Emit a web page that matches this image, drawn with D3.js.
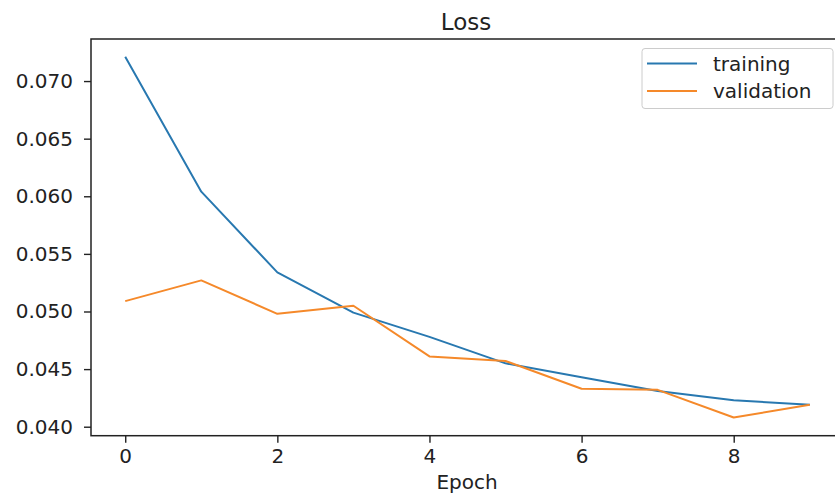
<!DOCTYPE html>
<html>
<head>
<meta charset="utf-8">
<script src="https://cdn.jsdelivr.net/npm/d3@7"></script>
<style>
  html, body { margin: 0; padding: 0; background: #fff; }
  svg { display: block; font-family: "DejaVu Sans", sans-serif; }
</style>
</head>
<body>
<svg id="chart" width="835" height="496"></svg>
<script>
const epochs = [0, 1, 2, 3, 4, 5, 6, 7, 8, 9];
const training = [0.0721, 0.0604, 0.0534, 0.0499, 0.0478, 0.0455, 0.0443, 0.0431, 0.0423, 0.0419];
const validation = [0.0509, 0.0527, 0.0498, 0.0505, 0.0461, 0.0457, 0.0433, 0.0432, 0.0408, 0.0419];
const xTicks = [0, 2, 4, 6, 8];
const yTicks = [0.040, 0.045, 0.050, 0.055, 0.060, 0.065, 0.070];
const seriesNames = ["training", "validation"];
const colors = ["#2878b0", "#f5892a"];

const svg = d3.select("#chart");
const pLeft = 91, pRight = 844, pTop = 39, pBottom = 435.7;

const x = d3.scaleLinear().domain([-0.45, 9.45]).range([pLeft, pRight]);
const y = d3.scaleLinear().domain([0.03922, 0.07365]).range([pBottom, pTop]);

// lines
const line = d3.line().x((d, i) => x(epochs[i])).y(d => y(d));
[training, validation].forEach((s, k) => {
  svg.append("path")
    .datum(s)
    .attr("d", line)
    .attr("fill", "none")
    .attr("stroke", colors[k])
    .attr("stroke-width", 2)
    .attr("stroke-linejoin", "round");
});

// axes
const xAxis = d3.axisBottom(x).tickValues(xTicks).tickFormat(d3.format("d")).tickSize(7).tickPadding(6);
const yAxis = d3.axisLeft(y).tickValues(yTicks).tickFormat(d3.format(".3f")).tickSize(7).tickPadding(11);

const gx = svg.append("g").attr("transform", `translate(0,${pBottom})`).call(xAxis);
const gy = svg.append("g").attr("transform", `translate(${pLeft},0)`).call(yAxis);
[gx, gy].forEach(g => {
  g.select(".domain").remove();
  g.selectAll(".tick line").attr("stroke", "#222").attr("stroke-width", 1.4);
  g.selectAll(".tick text").attr("fill", "#222").style("font-size", "20px").style("font-family", "DejaVu Sans");
});

// spines
svg.append("rect")
  .attr("x", pLeft).attr("y", pTop)
  .attr("width", pRight - pLeft).attr("height", pBottom - pTop)
  .attr("fill", "none").attr("stroke", "#222").attr("stroke-width", 1.5);

// title
svg.append("text")
  .attr("x", 466).attr("y", 30)
  .attr("text-anchor", "middle")
  .style("font-size", "23px").attr("fill", "#222")
  .text("Loss");

// x label
svg.append("text")
  .attr("x", 467).attr("y", 489)
  .attr("text-anchor", "middle")
  .style("font-size", "20px").attr("fill", "#222")
  .text("Epoch");

// legend
const lg = svg.append("g");
lg.append("rect")
  .attr("x", 642).attr("y", 48.5).attr("width", 191).attr("height", 60).attr("rx", 3)
  .attr("fill", "#fff").attr("fill-opacity", 0.8)
  .attr("stroke", "#cccccc").attr("stroke-width", 1);
const ly = [63.5, 91];
seriesNames.forEach((n, k) => {
  lg.append("line")
    .attr("x1", 647).attr("x2", 697).attr("y1", ly[k]).attr("y2", ly[k])
    .attr("stroke", colors[k]).attr("stroke-width", 2);
  lg.append("text")
    .attr("x", 713).attr("y", ly[k])
    .attr("dominant-baseline", "central")
    .style("font-size", "20px").attr("fill", "#222")
    .text(n);
});
</script>
</body>
</html>
